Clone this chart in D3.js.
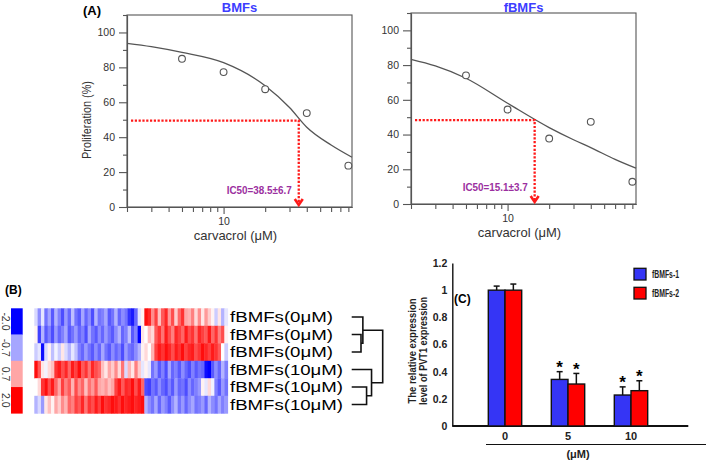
<!DOCTYPE html>
<html>
<head>
<meta charset="utf-8">
<script src="https://cdn.jsdelivr.net/npm/d3@7"></script>
<style>
body { margin: 0; background: #fff; }
svg { display: block; font-family: "Liberation Sans", Arial, sans-serif; }
</style>
</head>
<body>
<svg id="fig" width="709" height="460"></svg>
<script>
// ---- panel A: dose response ----
var doses = [5, 10, 20, 40, 80];
var bmfsProlif = [84.9, 77.3, 67.5, 53.8, 23.7];
var fbmfsProlif = [74.1, 54.4, 37.7, 47.3, 12.8];

// fitted curves
var curveDoses = [2, 3, 5, 10, 20, 30, 40, 60, 85];
var bmfsCurve = [93.8, 91.9, 88.6, 82.7, 69.5, 57, 45.7, 35.5, 28.5];
var fbmfsCurve = [83.3, 79.5, 72.4, 58, 44, 37, 32.5, 25.7, 20.6];

// where the red IC50 guides sit
var bmfsIc50 = { dose: 35, prolif: 49.5, label: "IC50=38.5±6.7" };
var fbmfsIc50 = { dose: 15.7, prolif: 48.3, label: "IC50=15.1±3.7" };

var prolifMajor = [0, 20, 40, 60, 80, 100];
var prolifMinor = [10, 30, 50, 70, 90, 110];
var doseMinor = [2, 3, 4, 5, 6, 7, 8, 9, 20, 30, 40, 50, 60, 70, 80];
var doseMajor = [10];

// ---- panel B: heatmap ----
var rowNames = ["fBMFs(0μM)", "fBMFs(0μM)", "fBMFs(0μM)", "fBMFs(10μM)", "fBMFs(10μM)", "fBMFs(10μM)"];
var heatRow1 = [-0.3,-0.9,-0.2,-1.1,-0.7,-1.3,-0.6,-1.0,-1.4,-0.8,-1.2,-0.5,-1.1,-1.3,-0.7,-1.2,-0.9,-1.4,-0.6,-1.1,-1.0,-0.7,-1.3,-1.1,-0.6,-1.2,-0.9,-1.1,-1.6,-1.8,-1.2,-0.2,0.1,1.9,1.7,0.9,1.5,0.5,1.3,1.7,0.8,1.4,0.4,1.2,1.6,0.7,0.6,1.0,0.3,0.9,0.2,0.8,0.4,0.1,-0.4,0.2,-0.6,-0.2];
var heatRow2 = [0.1,-1.5,-0.6,-1.3,-1.0,-1.4,-0.8,-1.2,-1.0,-0.7,-1.3,-1.1,-0.8,-1.2,-1.0,-1.4,-0.7,-1.1,-1.3,-0.9,-1.2,-0.8,-1.1,-1.3,-0.9,-0.6,-1.2,-1.0,-0.5,-1.3,-1.0,-2.0,0.2,0.0,0.5,0.3,1.3,1.6,1.1,1.8,1.4,1.0,1.7,1.5,1.2,1.8,1.4,1.6,1.1,1.7,1.5,1.3,1.8,1.2,1.6,1.0,1.4,0.1];
var heatRow3 = [-0.4,-0.2,-1.9,-0.3,0.1,-0.5,-0.1,-0.4,0.2,-0.3,-0.6,-0.2,-0.5,-1.0,-1.2,-0.8,-1.1,-1.3,-0.9,-1.2,-0.7,-1.1,-1.3,-0.9,-1.2,-1.0,-1.4,-0.8,-1.1,-1.2,-0.9,-0.6,0.1,0.3,0.0,0.6,1.5,1.8,1.6,1.9,1.7,1.4,1.8,1.6,1.9,1.5,1.7,1.8,1.4,1.6,1.9,1.7,1.5,1.8,1.6,1.3,0.0,-0.4];
var heatRow4 = [1.9,1.3,0.2,-0.1,0.3,0.5,1.6,1.8,1.4,1.7,1.2,1.8,1.5,1.9,1.3,1.6,1.1,1.7,1.4,1.2,0.5,0.2,0.7,0.4,0.9,0.3,1.1,-0.3,0.6,0.2,1.0,0.4,-0.2,0.1,-0.2,-1.1,-0.8,-1.3,-1.0,-1.4,-0.7,-1.2,-1.0,-1.3,-0.9,-1.2,-1.4,-1.0,-1.3,-1.1,-1.2,-1.9,-2.0,-1.3,-0.9,-1.2,-0.6,-1.0];
var heatRow5 = [0.0,0.3,1.6,1.9,1.4,1.8,1.2,0.7,1.5,1.0,1.3,0.6,1.4,0.9,1.2,0.5,1.1,0.8,1.3,0.7,0.6,0.8,0.5,0.7,1.5,1.8,1.3,1.7,1.6,1.9,1.4,1.8,1.2,-1.4,-1.5,-1.1,-1.3,-0.9,-1.2,-1.4,-1.0,-1.3,-0.8,-1.2,-1.1,-1.4,-0.9,-1.2,-1.0,-0.8,0.1,-0.2,0.3,-0.1,-1.0,-1.3,-0.8,-1.1];
var heatRow6 = [-0.6,-0.3,-0.8,0.2,0.5,0.1,0.7,0.4,0.9,0.6,1.2,1.0,1.5,1.3,1.7,1.1,1.6,1.4,1.8,1.5,1.9,1.6,1.7,1.9,1.8,1.6,1.9,1.7,1.8,1.9,1.7,1.8,1.9,-0.6,-0.9,-1.1,-0.7,-1.2,-0.8,-1.0,-1.3,-0.9,-0.6,-1.1,-0.8,-1.2,-0.9,-0.7,-1.1,-1.0,-0.8,-1.2,-0.6,-0.9,-1.1,-0.7,-1.0,-0.8];
var heatKey = [-2.0, -0.7, 0.7, 2.0];
var heatKeyLabels = ["-2.0", "-0.7", "0.7", "2.0"];

// dendrogram merges: leaves are rows 0-5, new nodes numbered from 6
var dendroMerges = [
    { left: 1, right: 2, height: 1.5 },
    { left: 0, right: 6, height: 1.8 },
    { left: 4, right: 5, height: 2.4 },
    { left: 3, right: 8, height: 3.2 },
    { left: 7, right: 9, height: 5.0 }
];

// ---- panel C: PVT1 expression ----
var pvtDoses = ["0", "5", "10"];
var pvtSeries = ["fBMFs-1", "fBMFs-2"];
var pvt1 = [1.0, 0.343, 0.228];
var pvt1Err = [0.03, 0.057, 0.06];
var pvt2 = [1.0, 0.309, 0.26];
var pvt2Err = [0.045, 0.078, 0.073];
var pvtStars = ["", "*", "*"];
var pvtTicks = [0, 0.2, 0.4, 0.6, 0.8, 1, 1.2];

var svg = d3.select("#fig");
var grey = "#555";

function styleAxis(g, size) {
    g.selectAll("path, line").attr("stroke", grey).attr("stroke-width", 1.1);
    g.selectAll("text").attr("fill", "#333").attr("font-size", size);
}

function doseResponse(o) {
    var x = d3.scaleLog().domain([2, 85]).range([o.left, o.right]);
    var y = d3.scaleLinear().domain([0, 110]).range([o.bottom, o.top]);
    var g = svg.append("g");

    // box
    g.append("rect")
        .attr("x", o.left).attr("y", o.top)
        .attr("width", o.right - o.left).attr("height", o.bottom - o.top)
        .attr("fill", "none").attr("stroke", grey).attr("stroke-width", 1.1);

    var ay = g.append("g").attr("transform", "translate(" + o.left + ",0)");
    ay.append("g").call(d3.axisLeft(y).tickValues(prolifMinor).tickSize(4).tickSizeOuter(0).tickFormat(""));
    ay.append("g").call(d3.axisLeft(y).tickValues(prolifMajor).tickSize(8).tickSizeOuter(0).tickPadding(4));
    styleAxis(ay, "10.5px");

    var ax = g.append("g").attr("transform", "translate(0," + o.bottom + ")");
    ax.append("g").call(d3.axisBottom(x).tickValues(doseMinor).tickSize(5).tickSizeOuter(0).tickFormat(""));
    ax.append("g").call(d3.axisBottom(x).tickValues(doseMajor).tickSize(7).tickSizeOuter(0).tickPadding(4).tickFormat(d3.format("d")));
    styleAxis(ax, "10.5px");

    g.append("text")
        .attr("x", (o.left + o.right) / 2 - 4).attr("y", o.bottom + 33)
        .attr("text-anchor", "middle").attr("font-size", "13px").attr("fill", "#333")
        .text("carvacrol (μM)");

    g.append("text")
        .attr("x", (o.left + o.right) / 2).attr("y", 12)
        .attr("text-anchor", "middle").attr("font-size", "13px").attr("font-weight", "bold")
        .attr("fill", "#3d3dff")
        .text(o.title);

    // fitted curve
    var line = d3.line()
        .x(function (d) { return x(d[0]); })
        .y(function (d) { return y(d[1]); })
        .curve(d3.curveMonotoneX);
    g.append("path")
        .attr("d", line(d3.zip(curveDoses, o.curve)))
        .attr("fill", "none").attr("stroke", grey).attr("stroke-width", 1.3);

    // IC50 guides
    var cx = x(o.ic50.dose), cy = y(o.ic50.prolif);
    g.append("path")
        .attr("d", "M" + (o.left + 4) + "," + cy + "H" + cx + "V" + (o.bottom - 4))
        .attr("fill", "none").attr("stroke", "#ff1a1a").attr("stroke-width", 2.3)
        .attr("stroke-dasharray", "2.2,1.6");
    g.append("path")
        .attr("d", "M" + (cx - 4) + "," + (o.bottom - 8) + "L" + cx + "," + (o.bottom - 2) + "L" + (cx + 4) + "," + (o.bottom - 8))
        .attr("fill", "none").attr("stroke", "#ff1a1a").attr("stroke-width", 2.6);
    g.append("text")
        .attr("x", cx - 7).attr("y", o.bottom - 13)
        .attr("text-anchor", "end").attr("font-size", "11.5px").attr("font-weight", "bold")
        .attr("fill", "#9b2fa0")
        .attr("textLength", 65).attr("lengthAdjust", "spacingAndGlyphs")
        .text(o.ic50.label);

    // measured points
    g.selectAll("circle.pt").data(d3.zip(doses, o.points)).enter()
        .append("circle")
        .attr("cx", function (d) { return x(d[0]); })
        .attr("cy", function (d) { return y(d[1]); })
        .attr("r", 3.4)
        .attr("fill", "#fff").attr("stroke", grey).attr("stroke-width", 1.1);
}

doseResponse({ left: 127, right: 352, top: 15, bottom: 207, title: "BMFs",
    curve: bmfsCurve, points: bmfsProlif, ic50: bmfsIc50 });
doseResponse({ left: 411, right: 636, top: 13, bottom: 204, title: "fBMFs",
    curve: fbmfsCurve, points: fbmfsProlif, ic50: fbmfsIc50 });

svg.append("text").attr("x", 83).attr("y", 15)
    .attr("font-size", "13px").attr("font-weight", "bold").text("(A)");

svg.append("text")
    .attr("transform", "translate(91,120) rotate(-90)")
    .attr("text-anchor", "middle").attr("font-size", "12.5px").attr("fill", "#333")
    .attr("textLength", 78).attr("lengthAdjust", "spacingAndGlyphs")
    .text("Proliferation (%)");

// ---- panel B ----
var heatRows = [heatRow1, heatRow2, heatRow3, heatRow4, heatRow5, heatRow6];
var heatColor = d3.scaleLinear().domain([-2, 0, 2]).range(["#0000ff", "#ffffff", "#ff0000"]).clamp(true);
var hx = d3.scaleBand().domain(d3.range(heatRow1.length)).range([34.3, 227.7]);
var hy = d3.scaleBand().domain(d3.range(rowNames.length)).range([308.3, 413.3]);

svg.append("text").attr("x", 5).attr("y", 294)
    .attr("font-size", "12px").attr("font-weight", "bold").text("(B)");

var heat = svg.append("g");
heatRows.forEach(function (row, r) {
    heat.selectAll("rect.r" + r).data(row).enter()
        .append("rect")
        .attr("x", function (d, c) { return hx(c); })
        .attr("y", hy(r))
        .attr("width", hx.bandwidth() + 0.4)
        .attr("height", hy.bandwidth() + 0.4)
        .attr("fill", function (d) { return heatColor(d); });
});

svg.selectAll("text.rowname").data(rowNames).enter()
    .append("text")
    .attr("x", 230)
    .attr("y", function (d, i) { return hy(i) + hy.bandwidth() / 2; })
    .attr("dy", "0.36em")
    .attr("font-size", "15px")
    .attr("textLength", function (d) { return d.indexOf("10") >= 0 ? 113 : 103; })
    .attr("lengthAdjust", "spacingAndGlyphs")
    .text(function (d) { return d; });

// colour key
var ky = d3.scaleBand().domain(heatKey).range([308.3, 413.3]);
svg.selectAll("rect.key").data(heatKey).enter()
    .append("rect")
    .attr("x", 11).attr("y", function (d) { return ky(d); })
    .attr("width", 11.7).attr("height", ky.bandwidth() + 0.3)
    .attr("fill", function (d) { return heatColor(d); });
svg.selectAll("text.key").data(heatKey).enter()
    .append("text")
    .attr("transform", function (d) { return "translate(5.5," + (ky(d) + ky.bandwidth() / 2) + ") rotate(90)"; })
    .attr("text-anchor", "middle").attr("dy", "0.35em")
    .attr("font-size", "10.5px").attr("fill", "#333")
    .text(function (d, i) { return heatKeyLabels[i]; });

// dendrogram
var dx = d3.scaleLinear().domain([0, 5]).range([351.7, 382.7]);
var nodes = rowNames.map(function (d, i) { return { x: dx(0), y: hy(i) + hy.bandwidth() / 2 }; });
var dendro = svg.append("g");
dendroMerges.forEach(function (m) {
    var a = nodes[m.left], b = nodes[m.right], mx = dx(m.height);
    dendro.append("path")
        .attr("d", "M" + a.x + "," + a.y + "H" + mx + "V" + b.y + "H" + b.x)
        .attr("fill", "none").attr("stroke", "#111").attr("stroke-width", 1.6);
    nodes.push({ x: mx, y: (a.y + b.y) / 2 });
});

// ---- panel C ----
var yC = d3.scaleLinear().domain([0, 1.2]).range([426, 263]);
var xC = d3.scaleBand().domain(pvtDoses).range([473.5, 662.5]).paddingInner(0.47).paddingOuter(0.235);
var xS = d3.scaleBand().domain(pvtSeries).range([0, xC.bandwidth()]);
var cColor = d3.scaleOrdinal().domain(pvtSeries).range(["#3535f5", "#ff0000"]);
var pvtValues = [pvt1, pvt2];
var pvtErrs = [pvt1Err, pvt2Err];

svg.append("text").attr("x", 454).attr("y", 303)
    .attr("font-size", "12px").attr("font-weight", "bold").text("(C)");

var cAxis = svg.append("g").attr("transform", "translate(452.3,0)")
    .call(d3.axisLeft(yC).tickValues(pvtTicks).tickSize(0).tickPadding(5).tickFormat(d3.format("~g")));
cAxis.select(".domain").attr("stroke", "#111").attr("stroke-width", 1.4);
cAxis.selectAll("text").attr("font-size", "10.5px").attr("font-weight", "bold").attr("fill", "#222");

var cx0 = svg.append("g").attr("transform", "translate(0,426)")
    .call(d3.axisBottom(xC).tickSize(0).tickPadding(6));
cx0.select(".domain").remove();
cx0.selectAll("text").attr("font-size", "11px").attr("font-weight", "bold").attr("fill", "#222");
svg.append("line").attr("x1", 452.3).attr("x2", 688.3).attr("y1", 426).attr("y2", 426)
    .attr("stroke", "#111").attr("stroke-width", 2);

var bars = svg.append("g");
pvtSeries.forEach(function (s, k) {
    pvtDoses.forEach(function (d, i) {
        var v = pvtValues[k][i], e = pvtErrs[k][i];
        var bx = xC(d) + xS(s), mid = bx + xS.bandwidth() / 2;
        bars.append("line")
            .attr("x1", mid).attr("x2", mid).attr("y1", yC(v)).attr("y2", yC(v + e))
            .attr("stroke", "#111").attr("stroke-width", 1.5);
        bars.append("line")
            .attr("x1", mid - 3).attr("x2", mid + 3).attr("y1", yC(v + e)).attr("y2", yC(v + e))
            .attr("stroke", "#111").attr("stroke-width", 1.5);
        bars.append("rect")
            .attr("x", bx).attr("y", yC(v))
            .attr("width", xS.bandwidth()).attr("height", yC(0) - yC(v))
            .attr("fill", cColor(s)).attr("stroke", "#111").attr("stroke-width", 1.4);
        if (pvtStars[i]) {
            bars.append("text")
                .attr("x", mid).attr("y", yC(v + e) + 1.5)
                .attr("text-anchor", "middle").attr("font-size", "17px").attr("font-weight", "bold")
                .text(pvtStars[i]);
        }
    });
});

svg.append("text")
    .attr("transform", "translate(416,351) rotate(-90)")
    .attr("text-anchor", "middle").attr("font-size", "10px").attr("font-weight", "bold").attr("fill", "#222")
    .attr("textLength", 105).attr("lengthAdjust", "spacingAndGlyphs")
    .text("The relative expression");
svg.append("text")
    .attr("transform", "translate(427,351) rotate(-90)")
    .attr("text-anchor", "middle").attr("font-size", "10px").attr("font-weight", "bold").attr("fill", "#222")
    .attr("textLength", 108).attr("lengthAdjust", "spacingAndGlyphs")
    .text("level of PVT1 expression");

svg.append("line").attr("x1", 486).attr("x2", 706).attr("y1", 444.5).attr("y2", 444.5)
    .attr("stroke", "#111").attr("stroke-width", 1.2);
svg.append("text").attr("x", 578).attr("y", 457.5)
    .attr("text-anchor", "middle").attr("font-size", "11px").attr("font-weight", "bold").attr("fill", "#222")
    .text("(μM)");

// legend
var leg = svg.selectAll("g.leg").data(pvtSeries).enter()
    .append("g")
    .attr("transform", function (d, i) { return "translate(634," + (268.3 + i * 19) + ")"; });
leg.append("rect").attr("width", 12).attr("height", 11.7)
    .attr("fill", function (d) { return cColor(d); }).attr("stroke", "#111").attr("stroke-width", 1.3);
leg.append("text").attr("x", 18).attr("y", 6).attr("dy", "0.35em")
    .attr("font-size", "10px").attr("font-weight", "bold").attr("fill", "#222")
    .attr("textLength", 27).attr("lengthAdjust", "spacingAndGlyphs")
    .text(function (d) { return d; });
</script>
</body>
</html>
